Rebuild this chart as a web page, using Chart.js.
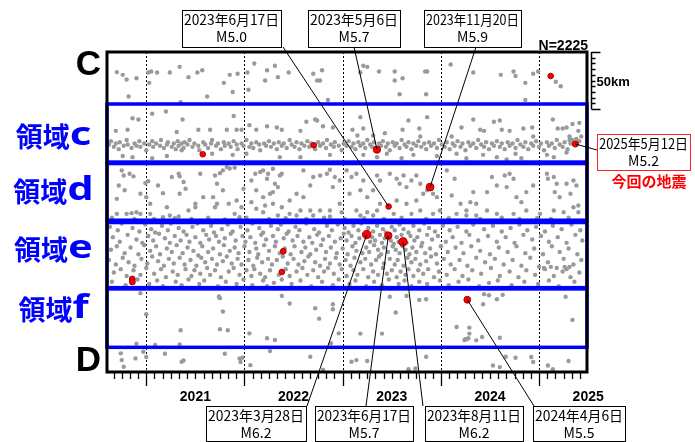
<!DOCTYPE html>
<html>
<head>
<meta charset="utf-8">
<script src="https://cdn.jsdelivr.net/npm/chart.js@4.4.1/dist/chart.umd.min.js"></script>
<style>
  body { margin: 0; background: #fff; }
  canvas { display: block; }
</style>
</head>
<body>
<canvas id="quakeChart" width="695" height="442"></canvas>
<script>
// x = decimal year, y = km along the C-D section (C at 0)
const topSection = [
  2020.70,17.6, 2020.76,20, 2020.80,24, 2020.90,23, 2020.82,39, 2021.02,18, 2021.05,17, 2021.03,27,
  2021.11,18, 2021.24,18, 2021.34,13, 2021.35,44, 2021.43,22, 2021.52,18, 2021.57,16, 2021.62,39,
  2021.79,27, 2021.85,20, 2021.88,35, 2021.93,19, 2022.03,18, 2022.04,33, 2022.10,10, 2022.21,25,
  2022.23,16, 2022.31,12, 2022.34,22, 2022.45,18, 2022.70,19, 2022.74,25, 2022.77,25, 2022.79,16,
  2022.85,42, 2023.21,12, 2023.25,13, 2023.18,18, 2023.37,17, 2023.53,17, 2023.53,25, 2023.61,23,
  2023.58,37, 2023.84,17, 2023.86,17, 2023.85,37, 2024.10,11, 2024.33,18, 2024.61,20, 2024.74,17,
  2024.76,21, 2024.86,27, 2024.86,42, 2024.94,19, 2024.99,17, 2025.17,26, 2025.22,30
];

const regionCScatter = [
  2020.86,58, 2020.92,59, 2020.69,69, 2020.81,68, 2021.06,54, 2021.20,52, 2021.37,59, 2021.31,70,
  2021.53,68, 2021.65,68, 2021.82,68, 2021.89,56, 2021.92,68, 2021.97,68, 2022.05,64, 2022.12,68,
  2022.23,65, 2022.33,66, 2022.38,68, 2022.57,69, 2022.63,61, 2022.72,59, 2022.74,60, 2022.80,65,
  2022.90,66, 2020.76,91, 2020.86,92, 2021.06,93, 2021.21,91, 2021.36,86, 2021.67,89, 2021.88,90,
  2022.02,89, 2022.36,92, 2022.57,92, 2022.87,90, 2023.18,57, 2023.10,68, 2023.21,67, 2023.15,73,
  2023.31,73, 2023.43,71, 2023.61,68, 2023.67,60, 2023.78,67, 2023.86,57, 2023.79,74, 2024.11,74,
  2024.21,66, 2024.33,59, 2024.40,68, 2024.44,69, 2024.54,61, 2024.60,60, 2024.62,68, 2024.70,69,
  2024.84,67, 2024.93,66, 2024.94,74, 2025.14,59, 2025.19,67, 2025.24,67, 2025.28,66, 2025.34,63,
  2025.41,62, 2025.40,69, 2025.31,74, 2025.31,77, 2023.21,90, 2023.35,92, 2023.45,89, 2023.60,93,
  2023.72,90, 2023.96,91, 2024.16,89, 2024.26,93, 2024.43,90, 2024.57,92, 2024.67,94, 2024.76,89,
  2024.82,93, 2025.08,90, 2025.15,92, 2025.28,88
];

const regionCBand = [
  2020.62,81, 2020.64,78, 2020.67,83, 2020.69,80, 2020.72,85, 2020.73,79, 2020.77,82, 2020.80,77,
  2020.81,81, 2020.85,84, 2020.88,80, 2020.90,82, 2020.93,78, 2020.94,83, 2020.98,80, 2021.00,86,
  2021.03,81, 2021.06,78, 2021.07,83, 2021.10,80, 2021.14,82, 2021.15,77, 2021.18,84, 2021.21,81,
  2021.22,79, 2021.26,83, 2021.28,80, 2021.30,85, 2021.32,78, 2021.33,82, 2021.36,80, 2021.38,84,
  2021.39,79, 2021.42,81, 2021.44,77, 2021.47,83, 2021.49,80, 2021.53,82, 2021.54,86, 2021.58,79,
  2021.60,81, 2021.63,84, 2021.66,80, 2021.67,77, 2021.71,82, 2021.73,80, 2021.76,85, 2021.79,79,
  2021.80,82, 2021.84,80, 2021.86,83, 2021.89,78, 2021.92,81, 2021.93,85, 2021.97,80, 2021.99,82,
  2022.02,77, 2022.05,83, 2022.07,80, 2022.09,84, 2022.12,79, 2022.15,81, 2022.16,86, 2022.20,80,
  2022.22,82, 2022.25,78, 2022.27,83, 2022.30,80, 2022.33,85, 2022.35,79, 2022.38,82, 2022.40,80,
  2022.43,84, 2022.46,77, 2022.48,81, 2022.51,83, 2022.53,79, 2022.56,85, 2022.58,80, 2022.61,82,
  2022.64,78, 2022.66,83, 2022.68,80, 2022.72,85, 2022.75,79, 2022.77,82, 2022.80,80, 2022.83,84,
  2022.84,77, 2022.88,81, 2022.91,83, 2022.92,79, 2022.96,82, 2022.99,86, 2023.01,80, 2023.04,82,
  2023.06,78, 2023.09,83, 2023.11,80, 2023.13,85, 2023.16,79, 2023.18,82, 2023.21,80, 2023.23,84,
  2023.25,77, 2023.28,81, 2023.30,83, 2023.32,79, 2023.34,85, 2023.37,80, 2023.39,82, 2023.41,78,
  2023.44,83, 2023.46,80, 2023.48,86, 2023.51,79, 2023.53,82, 2023.55,80, 2023.58,84, 2023.60,77,
  2023.63,81, 2023.65,83, 2023.67,79, 2023.70,85, 2023.72,80, 2023.75,82, 2023.77,78, 2023.80,83,
  2023.83,80, 2023.85,85, 2023.88,79, 2023.90,82, 2023.93,80, 2023.96,84, 2023.98,77, 2024.01,81,
  2024.04,83, 2024.06,79, 2024.09,85, 2024.12,80, 2024.14,82, 2024.17,78, 2024.20,83, 2024.22,80,
  2024.25,86, 2024.28,79, 2024.30,82, 2024.33,80, 2024.36,84, 2024.38,77, 2024.41,81, 2024.44,83,
  2024.46,79, 2024.49,85, 2024.52,80, 2024.54,82, 2024.57,78, 2024.60,83, 2024.62,80, 2024.65,85,
  2024.68,79, 2024.70,82, 2024.73,80, 2024.76,84, 2024.78,77, 2024.81,81, 2024.84,83, 2024.86,79,
  2024.89,85, 2024.92,80, 2024.94,82, 2024.97,78, 2025.00,83, 2025.02,80, 2025.05,86, 2025.08,79,
  2025.10,82, 2025.13,80, 2025.16,84, 2025.18,77, 2025.21,81, 2025.24,83, 2025.26,79, 2025.29,85,
  2025.32,80, 2025.34,77, 2025.38,76, 2025.41,78, 2025.43,74
];

const regionD = [
  2020.75,103.6, 2020.77,108, 2020.83,106.5, 2020.87,108.8, 2020.72,116.8, 2020.78,121, 2020.70,128.5,
  2020.94,124, 2020.99,114.7, 2021.02,113, 2021.12,116.8, 2021.17,123.5, 2021.26,109.4, 2021.33,106.5,
  2021.34,108.8, 2021.38,113.8, 2021.40,119.7, 2021.50,132.8, 2021.43,138.7, 2021.21,135.8, 2021.04,141.6,
  2020.94,141.6, 2020.90,140.2, 2020.85,141, 2020.80,141.6, 2020.70,141.6, 2021.24,143, 2021.33,144,
  2021.17,144.5, 2021.55,106.5, 2021.70,108, 2021.75,106, 2021.78,103.6, 2021.82,100.7, 2021.85,102,
  2021.90,101.2, 2021.72,115.3, 2021.78,121, 2021.68,127, 2021.84,132.8, 2021.92,130, 2021.97,135.8,
  2021.90,141.6, 2021.70,135.8, 2021.95,144.5, 2021.99,119.7, 2022.07,112.4, 2022.11,106.5, 2022.16,105,
  2022.19,103.6, 2022.24,106.5, 2022.29,102.1, 2022.36,108, 2022.38,106.5, 2022.23,110.9, 2022.31,115.3,
  2022.34,118.2, 2022.29,122.6, 2022.26,124, 2022.12,121, 2022.19,127, 2022.07,131.4, 2022.21,134.3,
  2022.29,132.8, 2022.38,135.8, 2022.46,130, 2022.53,124, 2022.60,127, 2022.67,116.8, 2022.60,103.6,
  2022.70,109.4, 2022.77,108, 2022.84,106.5, 2022.87,103, 2022.92,109.4, 2022.90,118.2, 2022.97,112.4,
  2022.97,132.8, 2022.87,138.7, 2022.77,138.7, 2022.67,138.7, 2022.57,138.7, 2022.46,141.6, 2022.34,143,
  2022.19,140.2, 2022.12,137.2, 2022.53,143, 2022.70,143, 2022.87,144, 2022.99,140.2, 2021.72,132.8,
  2021.58,127, 2021.50,135.8, 2021.34,124, 2021.04,132.8, 2021.00,127,
  2023.04,103.6, 2023.09,109.4, 2023.14,106.5, 2023.21,112.4, 2023.18,121, 2023.07,124, 2023.25,127,
  2023.31,121, 2023.35,108, 2023.38,112.4, 2023.48,106.5, 2023.55,110.9, 2023.62,108, 2023.58,115.3,
  2023.65,118.2, 2023.70,112.4, 2023.75,108, 2023.79,115.3, 2023.82,124, 2023.86,121, 2023.92,124,
  2023.96,127, 2023.75,130, 2023.65,132.8, 2023.55,130, 2023.38,132.8, 2023.35,138.7, 2023.25,140.2,
  2023.14,138.7, 2023.18,143, 2023.31,143, 2023.52,141.6, 2023.70,141.6, 2023.79,138.7, 2023.99,138.7,
  2023.92,141.6, 2024.06,103.6, 2024.14,110.9, 2024.11,125.5, 2024.20,132.8, 2024.26,138.7, 2024.16,141.6,
  2024.30,131.4, 2024.36,132.8, 2024.33,122.6, 2024.47,122.6, 2024.52,109.4, 2024.57,116.8, 2024.65,108,
  2024.70,106.5, 2024.74,110.9, 2024.67,118.2, 2024.77,127, 2024.82,131.4, 2024.87,122.6, 2024.94,116.8,
  2024.87,138.7, 2024.74,141.6, 2024.57,141.6, 2024.47,138.7, 2024.36,143, 2024.26,143, 2025.08,106.5,
  2025.09,110.9, 2025.15,109.4, 2025.18,115.3, 2025.16,122.6, 2025.21,127, 2025.28,115.3, 2025.35,112.4,
  2025.38,116.8, 2025.32,124, 2025.15,138.7, 2025.25,140.2, 2025.35,135.8, 2025.40,134.3, 2025.40,140.2,
  2025.01,141.6,
  2020.65,145, 2020.88,146, 2021.08,146, 2021.29,145.5, 2021.46,146, 2021.63,145, 2021.80,146.5,
  2022.02,145, 2022.25,146, 2022.42,145.5, 2022.63,146, 2022.81,145, 2023.02,146, 2023.22,145.5,
  2023.42,146, 2023.60,145, 2023.85,146, 2024.08,145.5, 2024.40,146, 2024.62,145, 2024.80,146,
  2024.98,145.5, 2025.12,146, 2025.30,145
];

// region e, read row by row (upper to lower part of the band)
const regionE = [
  2020.63,153, 2020.71,156, 2020.75,150, 2020.86,154, 2020.93,157, 2020.99,151, 2021.05,155, 2021.09,158,
  2021.16,152, 2021.22,156, 2021.25,150, 2021.33,154, 2021.38,157, 2021.47,153, 2021.52,150, 2021.58,156,
  2021.66,152, 2021.69,158, 2021.77,155, 2021.83,151, 2021.88,157, 2021.96,153, 2022.03,156, 2022.08,150,
  2022.15,154, 2022.19,158, 2022.27,152, 2022.34,155, 2022.37,151, 2022.45,157, 2022.52,153, 2022.56,156,
  2022.63,150, 2022.71,155, 2022.76,158, 2022.84,152, 2022.89,156, 2022.95,151, 2023.02,154, 2023.06,158,
  2023.11,152, 2023.16,156, 2023.19,150, 2023.26,154, 2023.31,157, 2023.35,152, 2023.41,155, 2023.44,158,
  2023.50,153, 2023.53,156, 2023.58,151, 2023.62,155, 2023.67,158, 2023.72,152, 2023.78,156, 2023.83,150,
  2023.88,154, 2023.94,157, 2024.02,152, 2024.09,156, 2024.17,153, 2024.26,157, 2024.33,151, 2024.44,155,
  2024.53,152, 2024.62,157, 2024.71,154, 2024.80,151, 2024.88,156, 2024.97,153, 2025.06,157, 2025.14,152,
  2025.23,155, 2025.33,151, 2025.42,156,

  2020.66,162, 2020.73,166, 2020.81,160, 2020.90,164, 2020.96,167, 2021.02,161, 2021.07,165, 2021.13,159,
  2021.19,163, 2021.24,167, 2021.29,161, 2021.35,165, 2021.41,160, 2021.44,166, 2021.50,162, 2021.55,167,
  2021.61,160, 2021.64,164, 2021.71,161, 2021.74,166, 2021.80,163, 2021.86,159, 2021.91,165, 2021.98,161,
  2022.01,166, 2022.06,162, 2022.11,167, 2022.17,160, 2022.22,164, 2022.29,161, 2022.32,166, 2022.40,163,
  2022.43,159, 2022.49,165, 2022.54,161, 2022.60,166, 2022.66,162, 2022.69,167, 2022.74,160, 2022.80,164,
  2022.86,161, 2022.92,166, 2022.98,163, 2023.01,159, 2023.04,165, 2023.09,161, 2023.13,167, 2023.17,163,
  2023.22,160, 2023.28,166, 2023.30,162, 2023.33,165, 2023.38,160, 2023.40,167, 2023.43,163, 2023.47,161,
  2023.49,165, 2023.52,168, 2023.55,162, 2023.57,166, 2023.60,160, 2023.63,164, 2023.65,167, 2023.69,161,
  2023.73,165, 2023.76,162, 2023.81,167, 2023.86,160, 2023.91,164, 2023.97,161, 2024.05,166, 2024.12,162,
  2024.21,167, 2024.29,160, 2024.38,165, 2024.48,161, 2024.57,166, 2024.66,162, 2024.75,167, 2024.84,160,
  2024.93,164, 2025.02,161, 2025.10,166, 2025.19,162, 2025.28,167, 2025.37,160, 2025.44,165,

  2020.64,173, 2020.70,170, 2020.78,176, 2020.84,171, 2020.92,177, 2020.98,169, 2021.04,174, 2021.10,170,
  2021.14,177, 2021.21,172, 2021.26,175, 2021.31,169, 2021.37,176, 2021.42,171, 2021.48,174, 2021.53,178,
  2021.57,170, 2021.63,175, 2021.68,172, 2021.75,177, 2021.79,169, 2021.85,174, 2021.90,171, 2021.94,176,
  2022.00,170, 2022.05,175, 2022.12,172, 2022.14,177, 2022.20,169, 2022.25,174, 2022.31,170, 2022.36,176,
  2022.41,172, 2022.47,177, 2022.51,170, 2022.58,175, 2022.62,171, 2022.67,177, 2022.73,173, 2022.78,169,
  2022.83,175, 2022.88,171, 2022.94,176, 2023.00,172, 2023.05,177, 2023.10,170, 2023.14,174, 2023.20,176,
  2023.24,171, 2023.27,175, 2023.32,169, 2023.36,173, 2023.39,177, 2023.42,171, 2023.46,175, 2023.51,170,
  2023.54,173, 2023.58,176, 2023.61,170, 2023.64,173, 2023.68,177, 2023.71,171, 2023.75,175, 2023.80,170,
  2023.84,176, 2023.89,172, 2023.95,177, 2024.00,170, 2024.07,175, 2024.15,171, 2024.23,176, 2024.31,170,
  2024.40,174, 2024.50,177, 2024.59,171, 2024.68,175, 2024.77,170, 2024.86,176, 2024.95,172, 2025.04,177,
  2025.13,170, 2025.21,175, 2025.30,172, 2025.39,177,

  2020.62,182, 2020.69,186, 2020.76,180, 2020.82,184, 2020.88,187, 2020.95,181, 2021.01,185, 2021.06,179,
  2021.12,183, 2021.18,187, 2021.23,181, 2021.28,185, 2021.34,180, 2021.39,186, 2021.45,182, 2021.51,187,
  2021.56,180, 2021.60,184, 2021.67,181, 2021.72,186, 2021.78,183, 2021.82,179, 2021.87,185, 2021.93,181,
  2021.97,186, 2022.04,182, 2022.09,187, 2022.13,180, 2022.18,184, 2022.24,181, 2022.28,186, 2022.33,182,
  2022.39,179, 2022.44,185, 2022.50,181, 2022.55,186, 2022.61,183, 2022.65,179, 2022.72,184, 2022.77,187,
  2022.82,181, 2022.87,185, 2022.93,180, 2022.97,186, 2023.03,182, 2023.08,187, 2023.12,180, 2023.18,184,
  2023.23,181, 2023.29,186, 2023.34,182, 2023.37,179, 2023.42,185, 2023.48,181, 2023.53,186, 2023.56,182,
  2023.62,187, 2023.66,180, 2023.70,184, 2023.74,181, 2023.79,186, 2023.85,183, 2023.90,179, 2023.96,185,
  2024.03,181, 2024.10,186, 2024.19,182, 2024.27,187, 2024.36,180, 2024.45,184, 2024.55,181, 2024.64,186,
  2024.73,182, 2024.82,187, 2024.91,180, 2025.00,188, 2025.05,189, 2025.09,184, 2025.12,188, 2025.18,189,
  2025.25,181, 2025.26,188, 2025.28,190, 2025.31,188, 2025.35,186, 2025.43,182,

  2020.67,193, 2020.74,190, 2020.80,196, 2020.87,191, 2020.94,195, 2021.00,189, 2021.08,194, 2021.15,190,
  2021.20,197, 2021.27,192, 2021.32,195, 2021.40,190, 2021.46,196, 2021.49,191, 2021.55,194, 2021.62,189,
  2021.65,195, 2021.70,191, 2021.76,197, 2021.84,192, 2021.89,189, 2021.95,195, 2022.02,191, 2022.07,196,
  2022.10,190, 2022.16,194, 2022.21,197, 2022.26,191, 2022.35,195, 2022.42,190, 2022.46,196, 2022.53,192,
  2022.59,189, 2022.64,195, 2022.70,191, 2022.75,197, 2022.81,192, 2022.85,189, 2022.91,194, 2022.99,190,
  2023.04,196, 2023.11,191, 2023.15,195, 2023.21,190, 2023.26,197, 2023.31,192, 2023.36,195, 2023.41,189,
  2023.45,194, 2023.50,191, 2023.55,197, 2023.59,192, 2023.64,195, 2023.67,190, 2023.72,196, 2023.77,191,
  2023.82,194, 2023.87,190, 2023.93,197, 2023.98,192, 2024.06,195, 2024.14,190, 2024.22,196, 2024.32,191,
  2024.41,194, 2024.51,189, 2024.60,196, 2024.70,192, 2024.79,197, 2024.87,191, 2024.96,195, 2025.06,190,
  2025.15,196, 2025.24,192, 2025.32,197, 2025.41,193,

  2020.65,201, 2020.79,204, 2020.91,199, 2021.03,203, 2021.11,200, 2021.17,205, 2021.30,201, 2021.36,204,
  2021.43,199, 2021.54,203, 2021.59,200, 2021.73,205, 2021.81,201, 2021.92,203, 2021.99,199, 2022.08,204,
  2022.19,200, 2022.23,205, 2022.30,202, 2022.38,199, 2022.48,203, 2022.57,200, 2022.68,205, 2022.79,201,
  2022.90,204, 2022.96,199, 2023.07,203, 2023.13,200, 2023.24,205, 2023.32,201, 2023.40,204, 2023.47,199,
  2023.57,203, 2023.63,200, 2023.70,205, 2023.78,201, 2023.86,203, 2023.99,200, 2024.08,204, 2024.18,201,
  2024.28,199, 2024.39,205, 2024.49,202, 2024.58,200, 2024.72,204, 2024.85,201, 2024.99,203, 2025.10,200,
  2025.20,205, 2025.36,201
];

const regionF = [
  2022.38,213.4, 2022.46,220.1, 2022.72,224.2, 2022.90,220.7, 2022.90,225.1, 2022.76,233.3, 2022.96,246.2,
  2022.88,254.9, 2022.23,250.5, 2022.31,252, 2022.05,246.2, 2021.75,242.6, 2021.83,243.5, 2021.78,227.1,
  2021.74,214, 2021.75,215.4, 2021.35,243.5, 2021.34,255.8, 2021.09,256.4, 2020.90,255.2, 2021.00,229.5,
  2020.94,211, 2023.48,214.2, 2023.65,213.4, 2023.78,216.9, 2023.85,216.3, 2023.54,228, 2023.18,246.4,
  2023.40,246.4, 2024.44,211.9, 2024.49,212.8, 2024.57,216.3, 2024.63,212.5, 2024.43,220.7, 2024.16,240.6,
  2024.29,241.2, 2024.25,251.4, 2024.26,251.4, 2024.28,250.5, 2024.24,252, 2024.36,252.3, 2024.42,249.4,
  2024.60,250, 2024.29,246.4, 2025.27,214.2, 2025.34,234.4
];

const bottomSection = [
  2020.74,263.7, 2020.75,269.6, 2020.77,275.4, 2020.89,268.1, 2020.97,262.3, 2021.00,266.9, 2021.19,264,
  2021.36,271, 2021.38,269.9, 2021.80,264, 2021.95,268.1, 2021.98,267.5, 2021.96,271.3, 2022.06,274,
  2022.26,261.7, 2022.67,266.6, 2022.80,278, 2023.09,271, 2023.14,269.6, 2023.25,270.4, 2023.85,266.6,
  2023.67,277.5, 2023.74,277, 2024.53,274.3, 2024.60,275.7, 2024.66,266.6, 2024.76,267.5, 2024.92,266.9,
  2024.94,271.3, 2025.09,274.3, 2025.14,277.5, 2025.30,270.4
];

// larger events (red)
const quakeTime = [2021.575, 2022.705, 2023.349, 2025.118, 2025.37, 2023.468, 2023.89, 2023.245, 2023.465, 2023.614, 2020.857, 2020.858, 2022.395, 2022.38, 2024.269];
const quakeKm   = [89.5, 81.6, 85.4, 21, 80.5, 135.2, 118.2, 159.7, 160.6, 166.2, 198.6, 201.2, 174.4, 192.5, 216.8];
const quakeMag  = [5.0, 5.0, 5.7, 5.0, 5.2, 5.0, 5.9, 6.2, 5.7, 6.2, 5.1, 5.1, 5.1, 5.0, 5.5];
const quakeDate = ['', '', '2023年5月6日', '', '2025年5月12日', '2023年6月17日', '2023年11月20日',
                   '2023年3月28日', '2023年6月17日', '2023年8月11日', '', '', '', '', '2024年4月6日'];

const yearLabels = [2021, 2022, 2023, 2024, 2025];
const regionNames = ['c', 'd', 'e', 'f'];
const regionTopKm = [45.5, 97.6, 149.2, 207.3];
const regionBottomKm = [96.3, 147.2, 206.2, 258.4];
const totalCount = 2225;

// callout boxes: which event, box rect [x, y, w, h], where the leader leaves the box
const callouts = [
  { i: 5, box: [182, 10, 99, 37], from: [283, 47] },
  { i: 2, box: [308, 10, 92, 37], from: [354, 47] },
  { i: 6, box: [424, 10, 97, 37], from: [476, 47] },
  { i: 7, box: [206, 406, 100, 35], from: [307, 406] },
  { i: 8, box: [315, 406, 98, 35], from: [366, 406] },
  { i: 9, box: [425, 406, 98, 35], from: [423, 406] },
  { i: 14, box: [533, 406, 92, 35], from: [534, 406] },
  { i: 4, box: [597, 134, 93, 36], from: [597, 150], red: true }
];

function toPoints(flat) {
  const pts = [];
  for (let i = 0; i < flat.length; i += 2) pts.push({ x: flat[i], y: flat[i + 1] });
  return pts;
}

const grayPoints = [topSection, regionCScatter, regionCBand, regionD, regionE, regionF, bottomSection].flatMap(toPoints);
const quakePoints = quakeTime.map((t, i) => ({ x: t, y: quakeKm[i] }));
const quakeRadius = quakeMag.map(m => 2.8 + (m - 5) * 1.2);

const overlay = {
  id: 'overlay',
  beforeDatasetsDraw(chart) {
    const { ctx, chartArea: a, scales: { x } } = chart;
    ctx.save();
    ctx.strokeStyle = '#000';
    ctx.lineWidth = 1;
    ctx.setLineDash([2, 2]);
    yearLabels.forEach(yr => {
      const px = Math.round(x.getPixelForValue(yr)) + 0.5;
      ctx.beginPath();
      ctx.moveTo(px, a.top);
      ctx.lineTo(px, a.bottom);
      ctx.stroke();
    });
    ctx.restore();
  },
  afterDatasetsDraw(chart) {
    const { ctx, chartArea: a, scales: { x, y } } = chart;
    ctx.save();

    // region boxes
    ctx.strokeStyle = '#0000ff';
    ctx.lineWidth = 3.5;
    regionNames.forEach((name, k) => {
      const t = y.getPixelForValue(regionTopKm[k]);
      const b = y.getPixelForValue(regionBottomKm[k]);
      ctx.strokeRect(a.left, t, a.right - a.left, b - t);
    });

    // frame
    ctx.strokeStyle = '#000';
    ctx.lineWidth = 3;
    ctx.strokeRect(a.left, a.top, a.right - a.left, a.bottom - a.top);

    // month / year ticks
    ctx.lineWidth = 1.3;
    for (let yr = 2020; yr <= 2025; yr++) {
      for (let m = 0; m < 12; m++) {
        const t = yr + m / 12;
        if (t <= x.min + 0.01 || t >= x.max - 0.01) continue;
        const px = Math.round(x.getPixelForValue(t)) + 0.5;
        ctx.beginPath();
        ctx.moveTo(px, a.bottom + 1);
        ctx.lineTo(px, a.bottom + (m === 0 ? 14 : 7));
        ctx.stroke();
      }
    }

    // year labels
    ctx.fillStyle = '#000';
    ctx.font = 'bold 14px "Liberation Sans", Arial, sans-serif';
    ctx.textAlign = 'center';
    ctx.textBaseline = 'alphabetic';
    yearLabels.forEach(yr => ctx.fillText(String(yr), x.getPixelForValue(yr + 0.5), 401));

    // count
    ctx.textAlign = 'right';
    ctx.fillText('N=' + totalCount, a.right + 1, 49.5);

    // 50 km scale bar
    const sx = a.right + 4.5;
    const s0 = y.getPixelForValue(0), s1 = y.getPixelForValue(50);
    ctx.lineWidth = 1.5;
    ctx.beginPath();
    ctx.moveTo(sx, s0);
    ctx.lineTo(sx, s1);
    for (let km = 0; km <= 50; km += 5) {
      const py = Math.round(y.getPixelForValue(km)) + 0.5;
      ctx.moveTo(sx, py);
      ctx.lineTo(sx + (km === 0 || km === 50 ? 9 : 4), py);
    }
    ctx.stroke();
    ctx.font = 'bold 13px "Liberation Sans", Arial, sans-serif';
    ctx.textAlign = 'left';
    ctx.fillText('50km', sx + 5, (s0 + s1) / 2 + 5);

    // C / D end labels
    ctx.font = 'bold 35px "Liberation Sans", Arial, sans-serif';
    ctx.textAlign = 'right';
    ctx.fillText('C', 101, 75);
    ctx.fillText('D', 101, 371);

    // region labels
    const labelY = [137, 192, 250, 310];
    regionNames.forEach((name, k) => {
      ctx.fillStyle = '#0000ff';
      ctx.textBaseline = 'middle';
      ctx.font = 'bold 27px "Noto Sans CJK JP", sans-serif';
      const wCjk = ctx.measureText('領域').width;
      ctx.font = 'bold 32px "Noto Sans", sans-serif';
      const wLat = ctx.measureText(name).width * 1.3;
      const left = 53.5 - (wCjk + wLat) / 2;
      ctx.font = 'bold 27px "Noto Sans CJK JP", sans-serif';
      ctx.textAlign = 'left';
      ctx.fillText('領域', left, labelY[k]);
      ctx.save();
      ctx.translate(left + wCjk, labelY[k]);
      ctx.scale(1.3, 1);
      ctx.font = 'bold 32px "Noto Sans", sans-serif';
      ctx.fillText(name, 0, -1);
      ctx.restore();
    });

    // callouts
    ctx.textBaseline = 'middle';
    callouts.forEach(c => {
      const px = x.getPixelForValue(quakeTime[c.i]);
      const py = y.getPixelForValue(quakeKm[c.i]);
      ctx.strokeStyle = '#000';
      ctx.lineWidth = 1;
      ctx.beginPath();
      ctx.moveTo(c.from[0], c.from[1]);
      ctx.lineTo(px, py);
      ctx.stroke();
      const [bx, by, bw, bh] = c.box;
      ctx.fillStyle = '#fff';
      ctx.fillRect(bx, by, bw, bh);
      ctx.strokeStyle = c.red ? '#ff2020' : '#000';
      ctx.strokeRect(bx + 0.5, by + 0.5, bw, bh);
      ctx.fillStyle = '#000';
      ctx.font = '14px "Noto Sans CJK JP", sans-serif';
      ctx.textAlign = 'center';
      ctx.fillText(quakeDate[c.i], bx + bw / 2, by + 10, bw - 4);
      ctx.fillText('M' + quakeMag[c.i].toFixed(1), bx + bw / 2, by + 27);
    });

    ctx.fillStyle = '#ff0000';
    ctx.font = 'bold 15px "Noto Sans CJK JP", sans-serif';
    ctx.textAlign = 'center';
    ctx.fillText('今回の地震', 649, 181);

    ctx.restore();
  }
};

new Chart(document.getElementById('quakeChart').getContext('2d'), {
  type: 'scatter',
  data: {
    datasets: [
      {
        label: 'M5+',
        data: quakePoints,
        pointRadius: quakeRadius,
        backgroundColor: '#ff0000',
        borderColor: '#a00000',
        borderWidth: 1
      },
      {
        label: 'all',
        data: grayPoints,
        pointRadius: 2.2,
        backgroundColor: '#9a9a9a',
        borderWidth: 0
      }
    ]
  },
  options: {
    responsive: false,
    animation: false,
    layout: { padding: { left: 107, right: 108, top: 52, bottom: 70 } },
    plugins: { legend: { display: false }, tooltip: { enabled: false } },
    scales: {
      x: { type: 'linear', min: 2020.6, max: 2025.488, display: false },
      y: { type: 'linear', min: 0, max: 280, reverse: true, display: false }
    }
  },
  plugins: [overlay]
});
</script>
</body>
</html>
